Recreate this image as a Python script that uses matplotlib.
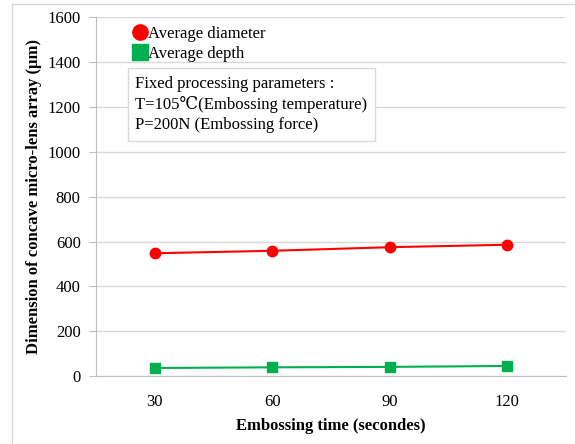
import matplotlib
matplotlib.use("Agg")
import matplotlib.pyplot as plt
from matplotlib.lines import Line2D

plt.rcParams['font.family'] = ['Liberation Serif', 'DejaVu Serif', 'Noto Sans CJK SC']

times = ["30", "60", "90", "120"]
diameter = [548, 559, 575, 586]
depth = [36, 39, 41, 45]

fig = plt.figure(figsize=(5.75, 4.44), dpi=100)
ax = fig.add_axes([0.167, 0.153, 0.817, 0.8076])

x = list(range(1, len(times) + 1))
ax.plot(x, diameter, color="#ff0000", lw=1.5, marker="o", ms=7.5, zorder=3)
ax.plot(x, depth, color="#00b050", lw=1.5, marker="s", ms=7, zorder=3)

ax.set_xlim(0.5, 4.5)
ax.set_ylim(0, 1600)
ax.set_yticks(range(0, 1601, 200))
ax.set_xticks(x)
ax.set_xticklabels(times)
ax.tick_params(axis="y", length=5, color="#bfbfbf", labelsize=12, pad=6)
ax.tick_params(axis="x", length=0, labelsize=12, pad=13)
ax.grid(axis="y", color="#d9d9d9", lw=1)
ax.set_axisbelow(True)
for s in ["top", "right"]:
    ax.spines[s].set_visible(False)
ax.spines["left"].set_color("#bfbfbf")
ax.spines["bottom"].set_color("#bfbfbf")

ax.set_xlabel("Embossing time (secondes)", fontsize=12, fontweight="bold", labelpad=6)
ax.set_ylabel("Dimension of concave micro-lens array (μm)", fontsize=12, fontweight="bold", labelpad=4)

handles = [Line2D([], [], ls="none", marker="o", color="#ff0000", ms=11),
           Line2D([], [], ls="none", marker="s", color="#00b050", ms=11)]
ax.legend(handles, ["Average diameter", "Average depth"], loc="upper left",
          bbox_to_anchor=(0.048, 1.01), frameon=False, fontsize=12,
          handletextpad=-0.15, handlelength=1.2, labelspacing=0.25, borderpad=0.2)

ax.text(0.083, 0.838, "Fixed processing parameters :\nT=105℃(Embossing temperature)\nP=200N (Embossing force)",
        transform=ax.transAxes, fontsize=12, va="top", ha="left", linespacing=1.35,
        bbox=dict(boxstyle="square,pad=0.45", fc="white", ec="#d9d9d9"))

fig.add_artist(Line2D([12 / 575, 12 / 575], [0, 1 - 4 / 444], color="#d9d9d9", lw=1))
fig.add_artist(Line2D([12 / 575, 1], [1 - 4 / 444, 1 - 4 / 444], color="#d9d9d9", lw=1))

fig.savefig("out.png", dpi=100)
